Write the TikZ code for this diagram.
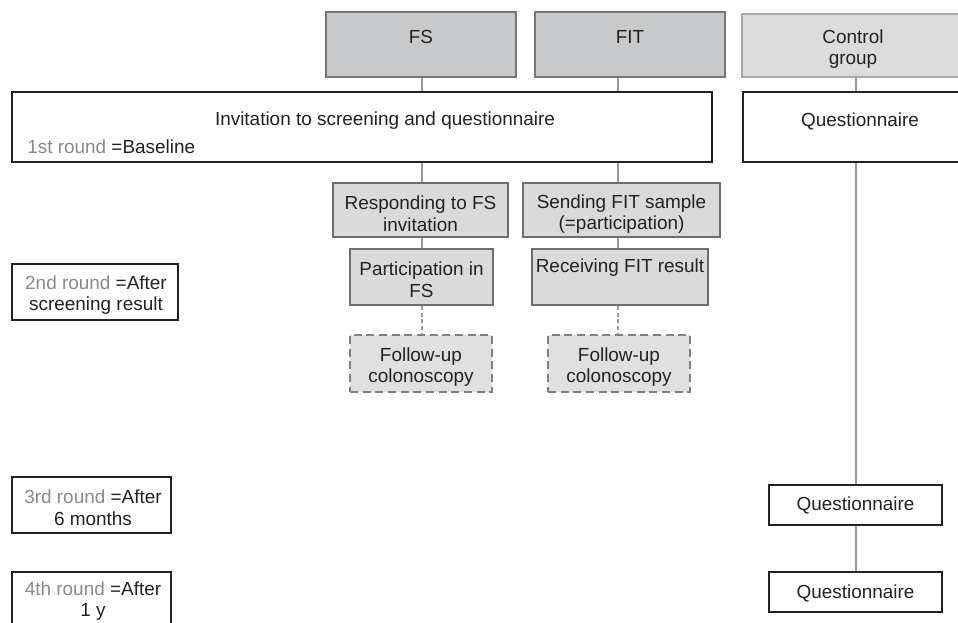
\documentclass[tikz,border=0pt]{standalone}
\usepackage{fontspec}
\setmainfont{Liberation Sans}
\definecolor{txt}{HTML}{222222}
\definecolor{lbl}{HTML}{8A8A8A}
\definecolor{conn}{HTML}{9A9A9A}
\definecolor{armfill}{HTML}{C8C9CB}
\definecolor{armdraw}{HTML}{777777}
\definecolor{ctrlfill}{HTML}{DCDCDD}
\definecolor{ctrldraw}{HTML}{A8A8A8}
\definecolor{stepfill}{HTML}{DADADB}
\definecolor{stepdraw}{HTML}{6E6E6E}
\definecolor{fufill}{HTML}{E0E0E1}
\definecolor{fudraw}{HTML}{808080}
\begin{document}
\begin{tikzpicture}[x=0.75pt,y=-0.75pt,
  every node/.style={font=\fontsize{14.2}{16.3}\selectfont, text=txt, align=center, inner sep=0pt},
  armbox/.style={draw=armdraw, fill=armfill, line width=1.4pt, rectangle},
  ctrlbox/.style={draw=ctrldraw, fill=ctrlfill, line width=1.3pt, rectangle},
  whitebox/.style={draw=txt, fill=white, line width=1.3pt, rectangle},
  stepbox/.style={draw=stepdraw, fill=stepfill, line width=1.4pt, rectangle},
  fubox/.style={draw=fudraw, fill=fufill, line width=1.4pt, dash pattern=on 6pt off 3.5pt, rectangle},
  conline/.style={draw=conn, line width=0.9pt},
  dashline/.style={draw=conn, line width=0.9pt, dash pattern=on 3pt off 2pt}]
\clip (0,0) rectangle (958,622);
\fill[white] (0,0) rectangle (958,622);
% columns
\coordinate (c1) at (422,0);
\coordinate (c2) at (618,0);
\coordinate (c3) at (856,0);
% top arms
\node[armbox, minimum width=190*0.75pt, minimum height=65*0.75pt] (FS) at (421,44.5) {};
\node (FSt) at (421,37) {FS};
\node[armbox, minimum width=190*0.75pt, minimum height=65*0.75pt] (FIT) at (630,44.5) {};
\node (FITt) at (630,37) {FIT};
\node[ctrlbox, minimum width=228*0.75pt, minimum height=63*0.75pt] (ctrl) at (856,45.5) {};
\node (ctrlt) at (853,49) {Control\\group};
% baseline row
\node[whitebox, minimum width=700*0.75pt, minimum height=70*0.75pt] (inv) at (362,127) {};
\node (invt) at (385,121) {Invitation to screening and questionnaire};
\node[anchor=west] (r1t) at (27,147) {\textcolor{lbl}{1st round} =Baseline};
\node[whitebox, minimum width=227*0.75pt, minimum height=70*0.75pt] (q1) at (856.5,127) {};
\node (q1t) at (860,121) {Questionnaire};
% steps
\node[stepbox, minimum width=175*0.75pt, minimum height=54*0.75pt] (resp) at (420.5,210) {};
\node (respt) at (420.5,214) {Responding to FS\\invitation};
\node[stepbox, minimum width=197*0.75pt, minimum height=54*0.75pt] (send) at (621.5,210) {};
\node (sendt) at (621.5,214) {Sending FIT sample\\(=participation)};
\node[stepbox, minimum width=143*0.75pt, minimum height=56*0.75pt] (part) at (421.5,277) {};
\node (partt) at (421.5,280) {Participation in\\FS};
\node[stepbox, minimum width=176*0.75pt, minimum height=56*0.75pt] (recv) at (620,277) {};
\node (recvt) at (620,268) {Receiving FIT result};
\node[fubox, minimum width=142*0.75pt, minimum height=57*0.75pt] (fu1) at (421,363.5) {};
\node (fu1t) at (421,367) {Follow-up\\colonoscopy};
\node[fubox, minimum width=142*0.75pt, minimum height=57*0.75pt] (fu2) at (619,363.5) {};
\node (fu2t) at (619,367) {Follow-up\\colonoscopy};
% round labels
\node[whitebox, minimum width=166*0.75pt, minimum height=56*0.75pt] (r2) at (95,292) {};
\node (r2t) at (96,295) {\textcolor{lbl}{2nd round} =After\\screening result};
\node[whitebox, minimum width=159*0.75pt, minimum height=56*0.75pt] (r3) at (91.5,505) {};
\node (r3t) at (93,508) {\textcolor{lbl}{3rd round} =After\\6 months};
\node[whitebox, minimum width=159*0.75pt, minimum height=62*0.75pt] (r4) at (91.5,603) {};
\node (r4t) at (93,601) {\textcolor{lbl}{4th round} =After\\1 y};
% control questionnaires
\node[whitebox, minimum width=173*0.75pt, minimum height=40*0.75pt] (q3) at (855.5,505) {Questionnaire};
\node[whitebox, minimum width=173*0.75pt, minimum height=40*0.75pt] (q4) at (855.5,592) {};
\node (q4t) at (855.5,593) {Questionnaire};
% connectors
\draw[conline] (c1 |- FS.south) -- (c1 |- inv.north);
\draw[conline] (c1 |- inv.south) -- (c1 |- resp.north);
\draw[conline] (c1 |- resp.south) -- (c1 |- part.north);
\draw[dashline] (c1 |- part.south) -- (c1 |- fu1.north);
\draw[conline] (c2 |- FIT.south) -- (c2 |- inv.north);
\draw[conline] (c2 |- inv.south) -- (c2 |- send.north);
\draw[conline] (c2 |- send.south) -- (c2 |- recv.north);
\draw[dashline] (c2 |- recv.south) -- (c2 |- fu2.north);
\draw[conline] (c3 |- ctrl.south) -- (c3 |- q1.north);
\draw[conline] (c3 |- q1.south) -- (c3 |- q3.north);
\draw[conline] (c3 |- q3.south) -- (c3 |- q4.north);
\end{tikzpicture}
\end{document}
